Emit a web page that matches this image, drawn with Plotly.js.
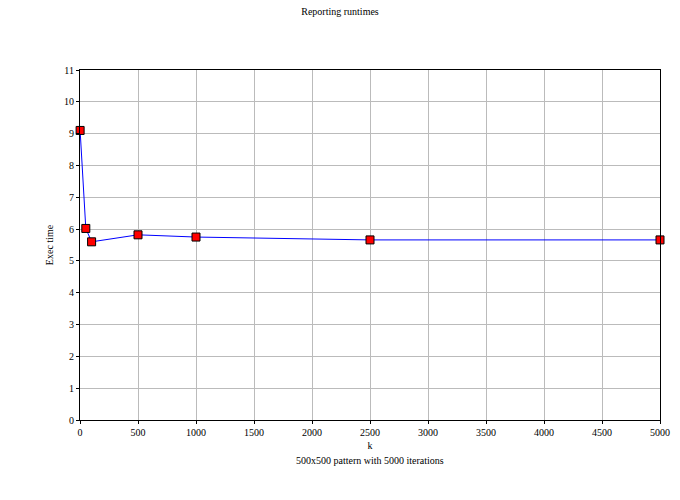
<!DOCTYPE html>
<html><head><script src="https://cdn.plot.ly/plotly-3.0.1.min.js"></script></head>
<body style="margin:0"><div id="c" style="width:680px;height:500px"></div>
<script>
const kValues = [1, 50, 100, 500, 1000, 2500, 5000];
const execTimes = [9.1, 6.02, 5.6, 5.82, 5.75, 5.66, 5.66];
const f = {family: 'Liberation Serif, Times New Roman, serif', size: 10, color: '#000'};
Plotly.newPlot('c', [{
  x: kValues, y: execTimes, mode: 'lines+markers', type: 'scatter', cliponaxis: false,
  line: {color: '#0000ff', width: 1},
  marker: {symbol: 'square', size: 8, color: '#ff0000', line: {color: '#000', width: 1}}
}], {
  width: 680, height: 500, showlegend: false, font: f,
  paper_bgcolor: '#fff', plot_bgcolor: '#fff',
  margin: {l: 80, r: 20, t: 70, b: 80},
  title: {text: 'Reporting runtimes', font: f, x: 0.5, xanchor: 'center', y: 0.985, yanchor: 'top'},
  xaxis: {range: [0, 5000], dtick: 500, showgrid: true, gridcolor: '#bbb', zeroline: false,
    showline: true, linecolor: '#000', mirror: true, ticks: 'outside', ticklen: 3, tickcolor: '#000',
    title: {text: 'k', font: f, standoff: 4}},
  yaxis: {range: [0, 11], dtick: 1, showgrid: true, gridcolor: '#bbb', zeroline: false,
    showline: true, linecolor: '#000', mirror: true, ticks: 'outside', ticklen: 3, tickcolor: '#000',
    title: {text: 'Exec time', font: f, standoff: 8}},
  annotations: [{text: '500x500 pattern with 5000 iterations', xref: 'paper', yref: 'paper',
    x: 0.5, y: 0, yshift: -33, showarrow: false, font: f, xanchor: 'center', yanchor: 'top'}]
}, {displayModeBar: false});
</script></body></html>
